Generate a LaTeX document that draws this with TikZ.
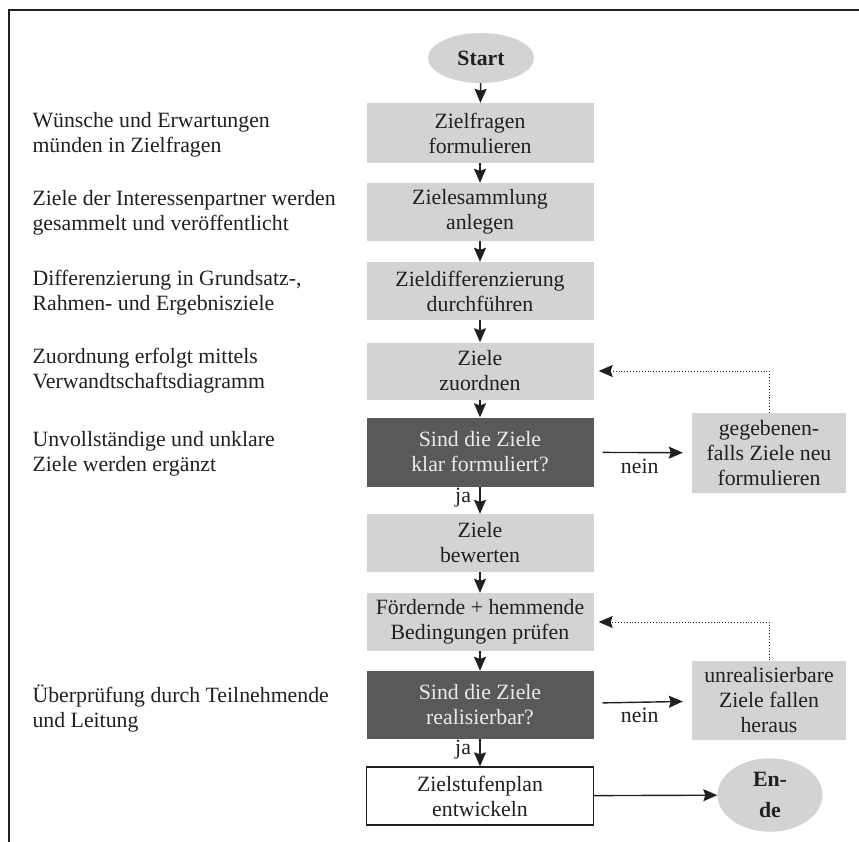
\documentclass[tikz,border=0pt]{standalone}
\usepackage{fontspec}
\setmainfont{Liberation Serif}
\usetikzlibrary{arrows.meta,shapes.geometric}
\definecolor{boxgray}{RGB}{211,211,213}
\definecolor{darkgray}{RGB}{88,89,91}
\definecolor{inkblack}{RGB}{35,31,32}
\tikzset{
  every node/.style={font=\fontsize{21.8}{25}\selectfont, text=inkblack},
  step box/.style={fill=boxgray, minimum width=227pt, minimum height=58pt, align=center, inner sep=2pt},
  ask box/.style={fill=darkgray, minimum width=227pt, minimum height=68pt, align=center, text=white!92!black},
  side box/.style={fill=boxgray, minimum width=154pt, minimum height=80pt, align=center, inner sep=2pt},
  term/.style={ellipse, fill=boxgray, align=center, font=\fontsize{21.8}{31}\selectfont\bfseries},
  note/.style={anchor=west, align=left},
  flow/.style={-{Stealth[length=14pt,width=12pt,inset=2pt]}, line width=1.4pt, draw=inkblack},
  back/.style={-{Stealth[length=14pt,width=12pt,inset=2pt]}, line width=0.9pt, dotted, draw=inkblack}
}
\begin{document}
\begin{tikzpicture}[x=1pt,y=-1pt]
  \useasboundingbox (0,0) rectangle (859,842);
  % frame
  \draw[line width=2pt, inkblack] (9,842) -- (9,10) -- (859,10);
  % main column
  \node[term, minimum width=106pt, minimum height=50pt] (start) at (481,58) {Start};
  \node[step box, minimum height=60pt] (frag) at (480,133) {Zielfragen\\formulieren};
  \node[step box] (samm) at (480,212) {Zielesammlung\\anlegen};
  \node[step box] (diff) at (480,291) {Zieldifferenzierung\\durchführen};
  \node[step box, minimum height=57pt] (zuord) at (480,371) {Ziele\\zuordnen};
  \node[ask box, minimum height=69pt] (klar) at (480,452) {Sind die Ziele\\klar formuliert?};
  \node[step box] (bew) at (480,543) {Ziele\\bewerten};
  \node[step box] (bed) at (480,622) {Fördernde + hemmende\\Bedingungen prüfen};
  \node[ask box] (real) at (480,705) {Sind die Ziele\\realisierbar?};
  \node[step box, fill=white, draw=inkblack, line width=1.3pt] (plan) at (480,796) {Zielstufenplan\\entwickeln};
  \node[term, minimum width=105pt, minimum height=55pt, text depth=0pt] (ende) at (770,795) {En-\\de};
  % side boxes
  \node[side box] (neu) at (769,453) {gegebenen-\\falls Ziele neu\\formulieren};
  \node[side box, minimum height=79pt] (raus) at (769,700) {unrealisierbare\\Ziele fallen\\heraus};
  % notes
  \node[note] (n1) at (29,135) {Wünsche und Erwartungen\\münden in Zielfragen};
  \node[note] (n2) at (29,213) {Ziele der Interessenpartner werden\\gesammelt und veröffentlicht};
  \node[note] (n3) at (29,293) {Differenzierung in Grundsatz-,\\Rahmen- und Ergebnisziele};
  \node[note] (n4) at (29,371) {Zuordnung erfolgt mittels\\Verwandtschaftsdiagramm};
  \node[note] (n5) at (29,454) {Unvollständige und unklare\\Ziele werden ergänzt};
  \node[note] (n6) at (29,709) {Überprüfung durch Teilnehmende\\und Leitung};
  % connectors
  \draw[flow] (start) -- (frag);
  \draw[flow] (frag) -- (samm);
  \draw[flow] (samm) -- (diff);
  \draw[flow] (diff) -- (zuord);
  \draw[flow] (zuord) -- (klar);
  \draw[flow] (klar) -- node[left, pos=0.4, xshift=-5pt] {ja} (bew);
  \draw[flow] (bew) -- (bed);
  \draw[flow] (bed) -- (real);
  \draw[flow] (real) -- node[left, pos=0.4, xshift=-5pt] {ja} (plan);
  \draw[flow] (plan) -- (ende);
  \draw[flow, shorten <=9pt, shorten >=9pt] (klar) -- node[below, yshift=-2pt, xshift=-3pt] {nein} (neu);
  \draw[flow, shorten <=9pt, shorten >=9pt] (real) -- node[below, yshift=-2pt, xshift=-3pt] {nein} (raus);
  \draw[back, shorten >=5pt] (neu.north) |- (zuord.east);
  \draw[back, shorten >=5pt] (raus.north) |- (bed.east);
\end{tikzpicture}
\end{document}
